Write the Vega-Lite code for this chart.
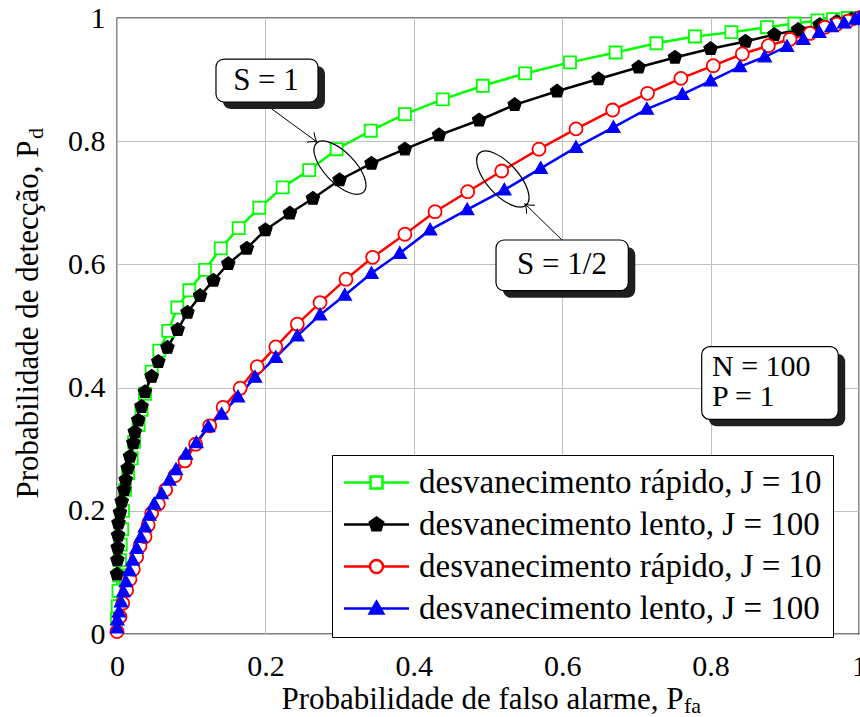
{
  "$schema": "https://vega.github.io/schema/vega-lite/v6.json",
  "width": 742,
  "height": 616,
  "autosize": {"type": "none"},
  "padding": {"left": 117, "top": 18, "right": 1, "bottom": 83},
  "background": "white",
  "config": {
    "view": {"stroke": "black", "strokeWidth": 1.3},
    "axis": {
      "labelFont": "Liberation Serif", "labelFontSize": 30, "labelColor": "black", "labelFlush": false,
      "titleFont": "Liberation Serif", "titleFontSize": 31, "titleColor": "black", "titleFontWeight": "normal",
      "gridColor": "#bfbfbf", "gridWidth": 1, "ticks": false, "domain": false
    }
  },
  "datasets": {
    "curves": [
      {"s":"A","x":0.0,"y":0.025},{"s":"A","x":0.001,"y":0.045},{"s":"A","x":0.002,"y":0.07},{"s":"A","x":0.003,"y":0.095},{"s":"A","x":0.004,"y":0.12},{"s":"A","x":0.005,"y":0.145},{"s":"A","x":0.007,"y":0.17},{"s":"A","x":0.008,"y":0.2},{"s":"A","x":0.0108,"y":0.234},{"s":"A","x":0.015,"y":0.261},{"s":"A","x":0.0198,"y":0.285},{"s":"A","x":0.023,"y":0.312},{"s":"A","x":0.029,"y":0.339},{"s":"A","x":0.033,"y":0.364},{"s":"A","x":0.0377,"y":0.39},{"s":"A","x":0.0467,"y":0.426},{"s":"A","x":0.057,"y":0.46},{"s":"A","x":0.069,"y":0.492},{"s":"A","x":0.0813,"y":0.53},{"s":"A","x":0.0974,"y":0.558},{"s":"A","x":0.1186,"y":0.591},{"s":"A","x":0.1398,"y":0.626},{"s":"A","x":0.164,"y":0.659},{"s":"A","x":0.1918,"y":0.692},{"s":"A","x":0.2233,"y":0.725},{"s":"A","x":0.259,"y":0.753},{"s":"A","x":0.296,"y":0.787},{"s":"A","x":0.342,"y":0.817},{"s":"A","x":0.388,"y":0.844},{"s":"A","x":0.439,"y":0.868},{"s":"A","x":0.493,"y":0.89},{"s":"A","x":0.55,"y":0.91},{"s":"A","x":0.6105,"y":0.928},{"s":"A","x":0.672,"y":0.944},{"s":"A","x":0.727,"y":0.959},{"s":"A","x":0.779,"y":0.97},{"s":"A","x":0.828,"y":0.977},{"s":"A","x":0.876,"y":0.985},{"s":"A","x":0.913,"y":0.991},{"s":"A","x":0.944,"y":0.996},{"s":"A","x":0.965,"y":0.998},{"s":"A","x":0.985,"y":1.0},{"s":"A","x":1.0,"y":1.0},
      {"s":"B","x":0.0,"y":0.097},{"s":"B","x":0.0005,"y":0.12},{"s":"B","x":0.001,"y":0.14},{"s":"B","x":0.0015,"y":0.16},{"s":"B","x":0.002,"y":0.18},{"s":"B","x":0.004,"y":0.197},{"s":"B","x":0.0063,"y":0.215},{"s":"B","x":0.0098,"y":0.234},{"s":"B","x":0.0117,"y":0.25},{"s":"B","x":0.0144,"y":0.269},{"s":"B","x":0.0175,"y":0.288},{"s":"B","x":0.022,"y":0.31},{"s":"B","x":0.024,"y":0.328},{"s":"B","x":0.0287,"y":0.347},{"s":"B","x":0.033,"y":0.369},{"s":"B","x":0.0377,"y":0.393},{"s":"B","x":0.0467,"y":0.418},{"s":"B","x":0.0557,"y":0.442},{"s":"B","x":0.068,"y":0.465},{"s":"B","x":0.0818,"y":0.494},{"s":"B","x":0.095,"y":0.522},{"s":"B","x":0.112,"y":0.549},{"s":"B","x":0.13,"y":0.574},{"s":"B","x":0.15,"y":0.601},{"s":"B","x":0.175,"y":0.626},{"s":"B","x":0.2,"y":0.656},{"s":"B","x":0.233,"y":0.683},{"s":"B","x":0.264,"y":0.707},{"s":"B","x":0.3,"y":0.737},{"s":"B","x":0.343,"y":0.764},{"s":"B","x":0.388,"y":0.787},{"s":"B","x":0.434,"y":0.81},{"s":"B","x":0.488,"y":0.834},{"s":"B","x":0.536,"y":0.859},{"s":"B","x":0.593,"y":0.881},{"s":"B","x":0.649,"y":0.901},{"s":"B","x":0.703,"y":0.92},{"s":"B","x":0.752,"y":0.936},{"s":"B","x":0.8,"y":0.95},{"s":"B","x":0.847,"y":0.962},{"s":"B","x":0.886,"y":0.973},{"s":"B","x":0.918,"y":0.981},{"s":"B","x":0.947,"y":0.989},{"s":"B","x":0.97,"y":0.994},{"s":"B","x":0.99,"y":0.998},{"s":"B","x":1.0,"y":1.0},
      {"s":"C","x":0.0,"y":0.004},{"s":"C","x":0.004,"y":0.028},{"s":"C","x":0.0077,"y":0.05},{"s":"C","x":0.013,"y":0.071},{"s":"C","x":0.0175,"y":0.089},{"s":"C","x":0.022,"y":0.105},{"s":"C","x":0.0265,"y":0.125},{"s":"C","x":0.031,"y":0.143},{"s":"C","x":0.0377,"y":0.158},{"s":"C","x":0.042,"y":0.177},{"s":"C","x":0.0467,"y":0.196},{"s":"C","x":0.0557,"y":0.211},{"s":"C","x":0.0656,"y":0.234},{"s":"C","x":0.078,"y":0.257},{"s":"C","x":0.0916,"y":0.281},{"s":"C","x":0.106,"y":0.308},{"s":"C","x":0.125,"y":0.338},{"s":"C","x":0.143,"y":0.368},{"s":"C","x":0.166,"y":0.399},{"s":"C","x":0.189,"y":0.434},{"s":"C","x":0.214,"y":0.466},{"s":"C","x":0.243,"y":0.503},{"s":"C","x":0.2736,"y":0.538},{"s":"C","x":0.3086,"y":0.576},{"s":"C","x":0.3446,"y":0.6115},{"s":"C","x":0.388,"y":0.649},{"s":"C","x":0.4286,"y":0.6856},{"s":"C","x":0.4726,"y":0.718},{"s":"C","x":0.5185,"y":0.7516},{"s":"C","x":0.5687,"y":0.787},{"s":"C","x":0.6186,"y":0.82},{"s":"C","x":0.668,"y":0.8506},{"s":"C","x":0.715,"y":0.8777},{"s":"C","x":0.76,"y":0.902},{"s":"C","x":0.8036,"y":0.9226},{"s":"C","x":0.8427,"y":0.9416},{"s":"C","x":0.8778,"y":0.955},{"s":"C","x":0.907,"y":0.9655},{"s":"C","x":0.934,"y":0.975},{"s":"C","x":0.954,"y":0.985},{"s":"C","x":0.97,"y":0.99},{"s":"C","x":0.985,"y":0.995},{"s":"C","x":1.0,"y":1.0},
      {"s":"D","x":0.0,"y":0.01},{"s":"D","x":0.0004,"y":0.023},{"s":"D","x":0.0027,"y":0.036},{"s":"D","x":0.0054,"y":0.052},{"s":"D","x":0.0085,"y":0.069},{"s":"D","x":0.012,"y":0.085},{"s":"D","x":0.0166,"y":0.103},{"s":"D","x":0.021,"y":0.12},{"s":"D","x":0.0265,"y":0.139},{"s":"D","x":0.032,"y":0.157},{"s":"D","x":0.0377,"y":0.174},{"s":"D","x":0.0436,"y":0.193},{"s":"D","x":0.05,"y":0.211},{"s":"D","x":0.06,"y":0.228},{"s":"D","x":0.0705,"y":0.25},{"s":"D","x":0.0795,"y":0.267},{"s":"D","x":0.093,"y":0.292},{"s":"D","x":0.107,"y":0.3106},{"s":"D","x":0.123,"y":0.3366},{"s":"D","x":0.141,"y":0.357},{"s":"D","x":0.163,"y":0.385},{"s":"D","x":0.186,"y":0.417},{"s":"D","x":0.214,"y":0.449},{"s":"D","x":0.243,"y":0.484},{"s":"D","x":0.2736,"y":0.518},{"s":"D","x":0.307,"y":0.55},{"s":"D","x":0.343,"y":0.5855},{"s":"D","x":0.381,"y":0.618},{"s":"D","x":0.422,"y":0.656},{"s":"D","x":0.472,"y":0.689},{"s":"D","x":0.522,"y":0.721},{"s":"D","x":0.571,"y":0.756},{"s":"D","x":0.6186,"y":0.79},{"s":"D","x":0.669,"y":0.8225},{"s":"D","x":0.714,"y":0.852},{"s":"D","x":0.762,"y":0.876},{"s":"D","x":0.8,"y":0.898},{"s":"D","x":0.8396,"y":0.921},{"s":"D","x":0.873,"y":0.937},{"s":"D","x":0.903,"y":0.954},{"s":"D","x":0.925,"y":0.9655},{"s":"D","x":0.9465,"y":0.9766},{"s":"D","x":0.963,"y":0.986},{"s":"D","x":0.98,"y":0.992},{"s":"D","x":0.995,"y":0.998},{"s":"D","x":1.0,"y":1.0}
    ]
  },
  "layer": [
    {
      "data": {"name": "curves"},
      "mark": {"type": "line", "strokeWidth": 2.5},
      "encoding": {
        "x": {"field": "x", "type": "quantitative", "scale": {"domain": [0, 1], "nice": false},
          "axis": {"values": [0, 0.2, 0.4, 0.6, 0.8, 1], "format": "~g", "labelPadding": 17,
            "title": "Probabilidade de falso alarme, P", "titleAlign": "right", "titleAnchor": "start", "titleX": 566, "titleY": 74, "titleBaseline": "alphabetic"}},
        "y": {"field": "y", "type": "quantitative", "scale": {"domain": [0, 1], "nice": false},
          "axis": {"values": [0, 0.2, 0.4, 0.6, 0.8, 1], "format": "~g", "labelPadding": 12,
            "title": "Probabilidade de detecção, P", "titleAngle": -90, "titleAlign": "right", "titleAnchor": "start", "titleX": -80, "titleY": 122, "titleBaseline": "alphabetic"}},
        "color": {"field": "s", "type": "nominal",
          "scale": {"domain": ["A", "B", "C", "D"], "range": ["#00ff00", "#000000", "#ff0000", "#0000ff"]},
          "legend": {
            "orient": "none", "legendX": 215, "legendY": 437, "title": null,
            "labelExpr": "datum.value === 'A' || datum.value === 'C' ? 'desvanecimento rápido, J = 10' : 'desvanecimento lento, J = 100'",
            "labelFont": "Liberation Serif", "labelFontSize": 33, "labelColor": "black", "labelLimit": 700,
            "strokeColor": "black", "fillColor": "white", "padding": 11, "rowPadding": 8,
            "symbolSize": 400, "symbolOffset": 17, "labelOffset": 26, "symbolStrokeWidth": 2.5,
            "encode": {"symbols": {
              "shape": {"value": {"expr": "datum.value === 'A' ? 'M-3.25,0H-0.6M-0.6,-0.6H0.6V0.6H-0.6ZM0.6,0H3.25' : datum.value === 'B' ? 'M-3.25,0H3.25M0,-0.7L0.666,-0.216L0.412,0.566L-0.412,0.566L-0.666,-0.216Z' : datum.value === 'C' ? 'M-3.25,0H-0.65M-0.65,0A0.65,0.65,0,1,0,0.65,0A0.65,0.65,0,1,0,-0.65,0ZM0.65,0H3.25' : 'M-3.25,0H3.25M0,-0.68L0.68,0.5H-0.68Z'"}},
              "fill": {"value": {"expr": "datum.value === 'A' || datum.value === 'C' ? 'white' : datum.value === 'B' ? 'black' : 'blue'"}},
              "stroke": {"value": {"expr": "datum.value === 'A' ? '#00ff00' : datum.value === 'B' ? 'black' : datum.value === 'C' ? 'red' : 'blue'"}},
              "strokeWidth": {"value": 2.5},
              "fillOpacity": {"value": 1},
              "opacity": {"value": 1}
            }},
            "encoding": {"symbols": {
              "shape": {"value": {"expr": "datum.value === 'A' ? 'M-3.25,0H-0.6M-0.6,-0.6H0.6V0.6H-0.6ZM0.6,0H3.25' : datum.value === 'B' ? 'M-3.25,0H3.25M0,-0.7L0.666,-0.216L0.412,0.566L-0.412,0.566L-0.666,-0.216Z' : datum.value === 'C' ? 'M-3.25,0H-0.65M-0.65,0A0.65,0.65,0,1,0,0.65,0A0.65,0.65,0,1,0,-0.65,0ZM0.65,0H3.25' : 'M-3.25,0H3.25M0,-0.68L0.68,0.5H-0.68Z'"}},
              "fill": {"value": {"expr": "datum.value === 'A' || datum.value === 'C' ? 'white' : datum.value === 'B' ? 'black' : 'blue'"}},
              "stroke": {"value": {"expr": "datum.value === 'A' ? '#00ff00' : datum.value === 'B' ? 'black' : datum.value === 'C' ? 'red' : 'blue'"}},
              "strokeWidth": {"value": 2.5},
              "fillOpacity": {"value": 1},
              "opacity": {"value": 1}
            }}
          }}
      }
    },
    {
      "data": {"name": "curves"},
      "transform": [{"filter": "datum.s === 'A'"}],
      "mark": {"type": "point", "shape": "M-0.86,-0.86H0.86V0.86H-0.86Z", "fill": "#ffffff", "stroke": "#00ff00", "filled": true, "opacity": 1, "strokeWidth": 1.8, "size": 196},
      "encoding": {"x": {"field": "x", "type": "quantitative"}, "y": {"field": "y", "type": "quantitative"}}
    },
    {
      "data": {"name": "curves"},
      "transform": [{"filter": "datum.s === 'B'"}],
      "mark": {"type": "point", "shape": "M0,-1L0.951,-0.309L0.588,0.809L-0.588,0.809L-0.951,-0.309Z", "fill": "#000000", "stroke": "#000000", "filled": true, "opacity": 1, "strokeWidth": 1.2, "size": 196},
      "encoding": {"x": {"field": "x", "type": "quantitative"}, "y": {"field": "y", "type": "quantitative"}}
    },
    {
      "data": {"name": "curves"},
      "transform": [{"filter": "datum.s === 'C'"}],
      "mark": {"type": "point", "shape": "M-0.93,0A0.93,0.93,0,1,0,0.93,0A0.93,0.93,0,1,0,-0.93,0Z", "fill": "#ffffff", "stroke": "#ff0000", "filled": true, "opacity": 1, "strokeWidth": 1.8, "size": 196},
      "encoding": {"x": {"field": "x", "type": "quantitative"}, "y": {"field": "y", "type": "quantitative"}}
    },
    {
      "data": {"name": "curves"},
      "transform": [{"filter": "datum.s === 'D'"}],
      "mark": {"type": "point", "shape": "M0,-0.95L0.95,0.72H-0.95Z", "fill": "#0000ff", "stroke": "#0000ff", "filled": true, "opacity": 1, "strokeWidth": 1.2, "size": 196},
      "encoding": {"x": {"field": "x", "type": "quantitative"}, "y": {"field": "y", "type": "quantitative"}}
    },
    {
      "data": {"values": [{}]},
      "mark": {"type": "point", "shape": "M-1,0A1,0.45,0,1,0,1,0A1,0.45,0,1,0,-1,0Z", "size": 4624, "angle": 46, "filled": false, "stroke": "black", "strokeWidth": 1.2, "opacity": 1},
      "encoding": {"x": {"datum": 0.3005, "type": "quantitative"}, "y": {"datum": 0.757, "type": "quantitative"}}
    },
    {
      "data": {"values": [{}]},
      "mark": {"type": "point", "shape": "M-1,0A1,0.45,0,1,0,1,0A1,0.45,0,1,0,-1,0Z", "size": 4900, "angle": 48, "filled": false, "stroke": "black", "strokeWidth": 1.2, "opacity": 1},
      "encoding": {"x": {"datum": 0.52, "type": "quantitative"}, "y": {"datum": 0.7386, "type": "quantitative"}}
    },
    {
      "data": {"values": [{}]},
      "mark": {"type": "rule", "color": "black", "strokeWidth": 1},
      "encoding": {"x": {"datum": 0.1995, "type": "quantitative"}, "y": {"datum": 0.8604, "type": "quantitative"}, "x2": {"datum": 0.2695}, "y2": {"datum": 0.7987}}
    },
    {
      "data": {"values": [{}]},
      "mark": {"type": "rule", "color": "black", "strokeWidth": 1},
      "encoding": {"x": {"datum": 0.5997, "type": "quantitative"}, "y": {"datum": 0.6396, "type": "quantitative"}, "x2": {"datum": 0.5499}, "y2": {"datum": 0.6981}}
    },
    {
      "data": {"values": [{}]},
      "mark": {"type": "point", "shape": "M-1,-0.75Q-0.4,-0.15,0,0Q-0.4,0.15,-1,0.75", "size": 256, "angle": 36, "filled": false, "stroke": "black", "strokeWidth": 1, "opacity": 1},
      "encoding": {"x": {"datum": 0.2695, "type": "quantitative"}, "y": {"datum": 0.7987, "type": "quantitative"}}
    },
    {
      "data": {"values": [{}]},
      "mark": {"type": "point", "shape": "M-1,-0.75Q-0.4,-0.15,0,0Q-0.4,0.15,-1,0.75", "size": 256, "angle": 224, "filled": false, "stroke": "black", "strokeWidth": 1, "opacity": 1},
      "encoding": {"x": {"datum": 0.5499, "type": "quantitative"}, "y": {"datum": 0.6981, "type": "quantitative"}}
    },
    {
      "data": {"values": [{}]},
      "mark": {"type": "rect", "fill": "#1f1f1f", "cornerRadius": 8},
      "encoding": {"x": {"datum": 0.1428, "type": "quantitative"}, "x2": {"datum": 0.2803}, "y": {"datum": 0.922, "type": "quantitative"}, "y2": {"datum": 0.8522}}
    },
    {
      "data": {"values": [{}]},
      "mark": {"type": "rect", "fill": "white", "stroke": "black", "strokeWidth": 1.2, "cornerRadius": 8},
      "encoding": {"x": {"datum": 0.1334, "type": "quantitative"}, "x2": {"datum": 0.2709}, "y": {"datum": 0.9334, "type": "quantitative"}, "y2": {"datum": 0.8636}}
    },
    {
      "data": {"values": [{}]},
      "mark": {"type": "text", "text": "S = 1", "font": "Liberation Serif", "fontSize": 31, "align": "center", "baseline": "middle", "color": "black"},
      "encoding": {"x": {"datum": 0.2008, "type": "quantitative"}, "y": {"datum": 0.8985, "type": "quantitative"}}
    },
    {
      "data": {"values": [{}]},
      "mark": {"type": "rect", "fill": "#1f1f1f", "cornerRadius": 8},
      "encoding": {"x": {"datum": 0.5202, "type": "quantitative"}, "x2": {"datum": 0.6985}, "y": {"datum": 0.6282, "type": "quantitative"}, "y2": {"datum": 0.5459}}
    },
    {
      "data": {"values": [{}]},
      "mark": {"type": "rect", "fill": "white", "stroke": "black", "strokeWidth": 1.2, "cornerRadius": 8},
      "encoding": {"x": {"datum": 0.5108, "type": "quantitative"}, "x2": {"datum": 0.6891}, "y": {"datum": 0.6396, "type": "quantitative"}, "y2": {"datum": 0.5573}}
    },
    {
      "data": {"values": [{}]},
      "mark": {"type": "text", "text": "S = 1/2", "font": "Liberation Serif", "fontSize": 31, "align": "center", "baseline": "middle", "color": "black"},
      "encoding": {"x": {"datum": 0.5997, "type": "quantitative"}, "y": {"datum": 0.5985, "type": "quantitative"}}
    },
    {
      "data": {"values": [{}]},
      "mark": {"type": "rect", "fill": "#1f1f1f", "cornerRadius": 8},
      "encoding": {"x": {"datum": 0.7974, "type": "quantitative"}, "x2": {"datum": 0.9814}, "y": {"datum": 0.455, "type": "quantitative"}, "y2": {"datum": 0.3371}}
    },
    {
      "data": {"values": [{}]},
      "mark": {"type": "rect", "fill": "white", "stroke": "black", "strokeWidth": 1.2, "cornerRadius": 8},
      "encoding": {"x": {"datum": 0.788, "type": "quantitative"}, "x2": {"datum": 0.972}, "y": {"datum": 0.4664, "type": "quantitative"}, "y2": {"datum": 0.3485}}
    },
    {
      "data": {"values": [{}]},
      "mark": {"type": "text", "text": "N = 100", "font": "Liberation Serif", "fontSize": 30, "align": "left", "baseline": "alphabetic", "color": "black"},
      "encoding": {"x": {"datum": 0.8019, "type": "quantitative"}, "y": {"datum": 0.4188, "type": "quantitative"}}
    },
    {
      "data": {"values": [{}]},
      "mark": {"type": "text", "text": "P = 1", "font": "Liberation Serif", "fontSize": 30, "align": "left", "baseline": "alphabetic", "color": "black"},
      "encoding": {"x": {"datum": 0.8019, "type": "quantitative"}, "y": {"datum": 0.3701, "type": "quantitative"}}
    },
    {
      "data": {"values": [{}]},
      "mark": {"type": "text", "text": "fa", "font": "Liberation Serif", "fontSize": 22, "align": "left", "baseline": "alphabetic", "color": "black"},
      "encoding": {"x": {"datum": 0.7642, "type": "quantitative"}, "y": {"datum": -0.1282, "type": "quantitative"}}
    },
    {
      "data": {"values": [{}]},
      "mark": {"type": "text", "text": "d", "font": "Liberation Serif", "fontSize": 22, "align": "left", "baseline": "alphabetic", "angle": -90, "color": "black"},
      "encoding": {"x": {"datum": -0.0997, "type": "quantitative"}, "y": {"datum": 0.8036, "type": "quantitative"}}
    }
  ]
}
